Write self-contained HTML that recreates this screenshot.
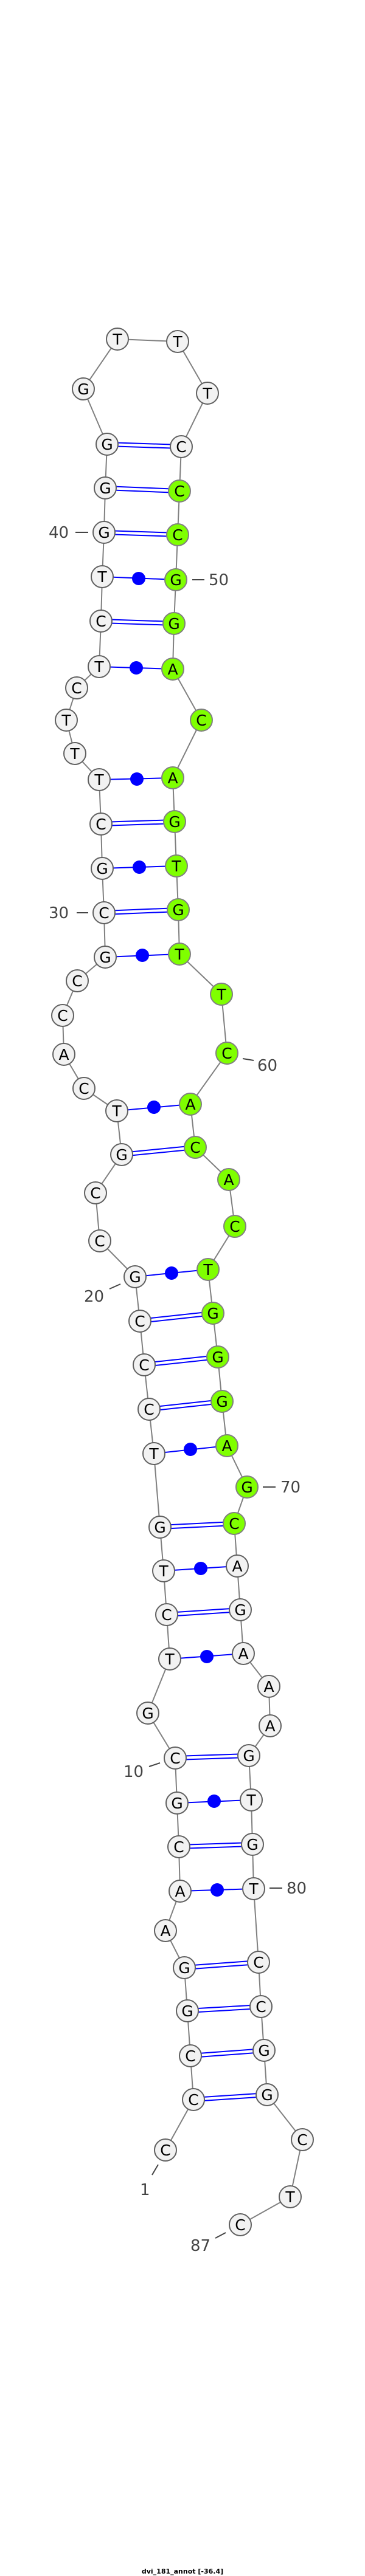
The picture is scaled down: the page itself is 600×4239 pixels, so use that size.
<!DOCTYPE html>
<html><head><meta charset="utf-8"><style>html,body{margin:0;padding:0;background:#fff}svg{display:block}</style></head><body>
<svg width="600" height="4239" viewBox="0 0 600 4239" xmlns="http://www.w3.org/2000/svg">
<rect width="600" height="4239" fill="#fff"/>
<polyline fill="none" stroke="#808080" stroke-width="2" points="272,3538 318,3455 313,3383 308,3309 303,3238 272,3177 296,3112 294,3039 291,2967 288,2893 243,2819 279,2730 274,2657 269,2585 263,2513 253,2392 245,2319 237,2246 230,2174 222,2101 164,2042 157,1963 200,1900 192,1828 138,1791 105,1735 103,1671 127,1614 173,1575 171,1502 168,1429 166,1356 163,1283 123,1240 109,1185 126,1132 163,1097 166,1022 168,949 171,876 173,803 176,731 137,640 193,558 292,562 341,647 298,735 295,808 292,880 289,954 286,1026 284,1101 331,1185 284,1280 287,1352 290,1425 293,1497 295,1570 364,1636 373,1733 313,1817 321,1888 376,1941 386,2018 342,2089 350,2161 358,2233 365,2306 373,2379 406,2447 385,2507 390,2577 395,2649 400,2721 442,2775 444,2840 409,2889 413,2962 415,3035 417,3108 425,3229 429,3302 434,3374 439,3447 497,3521 477,3615 395,3661"/>
<g stroke="#0000ff" stroke-width="2">
<line x1="318" y1="3452" x2="439" y2="3444"/><line x1="318" y1="3458" x2="439" y2="3450"/>
<line x1="313" y1="3380" x2="434" y2="3371"/><line x1="313" y1="3386" x2="434" y2="3377"/>
<line x1="308" y1="3306" x2="429" y2="3299"/><line x1="308" y1="3312" x2="429" y2="3305"/>
<line x1="303" y1="3235" x2="425" y2="3226"/><line x1="303" y1="3241" x2="425" y2="3232"/>
<line x1="296" y1="3112" x2="417" y2="3108"/>
<line x1="294" y1="3036" x2="415" y2="3032"/><line x1="294" y1="3042" x2="415" y2="3038"/>
<line x1="291" y1="2967" x2="413" y2="2962"/>
<line x1="288" y1="2890" x2="409" y2="2886"/><line x1="288" y1="2896" x2="409" y2="2892"/>
<line x1="279" y1="2730" x2="400" y2="2721"/>
<line x1="274" y1="2654" x2="395" y2="2646"/><line x1="274" y1="2660" x2="395" y2="2652"/>
<line x1="269" y1="2585" x2="390" y2="2577"/>
<line x1="263" y1="2510" x2="385" y2="2504"/><line x1="263" y1="2516" x2="385" y2="2510"/>
<line x1="253" y1="2392" x2="373" y2="2379"/>
<line x1="245" y1="2316" x2="365" y2="2303"/><line x1="245" y1="2322" x2="365" y2="2309"/>
<line x1="237" y1="2243" x2="358" y2="2230"/><line x1="237" y1="2249" x2="358" y2="2236"/>
<line x1="230" y1="2171" x2="350" y2="2158"/><line x1="230" y1="2177" x2="350" y2="2164"/>
<line x1="222" y1="2101" x2="342" y2="2089"/>
<line x1="200" y1="1897" x2="321" y2="1885"/><line x1="200" y1="1903" x2="321" y2="1891"/>
<line x1="192" y1="1828" x2="313" y2="1817"/>
<line x1="173" y1="1575" x2="295" y2="1570"/>
<line x1="171" y1="1499" x2="293" y2="1494"/><line x1="171" y1="1505" x2="293" y2="1500"/>
<line x1="168" y1="1429" x2="290" y2="1425"/>
<line x1="166" y1="1353" x2="287" y2="1349"/><line x1="166" y1="1359" x2="287" y2="1355"/>
<line x1="163" y1="1283" x2="284" y2="1280"/>
<line x1="163" y1="1097" x2="284" y2="1101"/>
<line x1="166" y1="1019" x2="286" y2="1023"/><line x1="166" y1="1025" x2="286" y2="1029"/>
<line x1="168" y1="949" x2="289" y2="954"/>
<line x1="171" y1="873" x2="292" y2="877"/><line x1="171" y1="879" x2="292" y2="883"/>
<line x1="173" y1="800" x2="295" y2="805"/><line x1="173" y1="806" x2="295" y2="811"/>
<line x1="176" y1="728" x2="298" y2="732"/><line x1="176" y1="734" x2="298" y2="738"/>
</g>
<g fill="#0000ff">
<circle cx="357" cy="3110" r="11"/><circle cx="352" cy="2964" r="11"/><circle cx="340" cy="2726" r="11"/><circle cx="330" cy="2581" r="11"/><circle cx="313" cy="2385" r="11"/><circle cx="282" cy="2095" r="11"/><circle cx="253" cy="1822" r="11"/><circle cx="234" cy="1572" r="11"/><circle cx="229" cy="1427" r="11"/><circle cx="225" cy="1282" r="11"/><circle cx="224" cy="1099" r="11"/><circle cx="228" cy="952" r="11"/>
</g>
<g stroke="#444" stroke-width="2">
<line x1="124" y1="876" x2="145" y2="876"/><line x1="316" y1="954" x2="336" y2="954"/>
<line x1="126" y1="1502" x2="145" y2="1502"/><line x1="399" y1="1742" x2="417" y2="1745"/>
<line x1="180" y1="2121" x2="198" y2="2113"/><line x1="432" y1="2447" x2="453" y2="2447"/>
<line x1="245" y1="2907" x2="263" y2="2901"/><line x1="443" y1="3107" x2="464" y2="3107"/>
<line x1="260" y1="3562" x2="250" y2="3579"/><line x1="354" y1="3683" x2="371" y2="3674"/>
</g>
<g font-family="DejaVu Sans, Liberation Sans, sans-serif" font-size="26" fill="#444">
<text x="80" y="885">40</text><text x="343" y="963">50</text>
<text x="80" y="1511">30</text><text x="423" y="1762">60</text>
<text x="138" y="2142">20</text><text x="461" y="2456">70</text>
<text x="203" y="2924">10</text><text x="471" y="3116">80</text>
<text x="230" y="3612">1</text><text x="313" y="3704">87</text>
</g>
<g stroke="#606060" stroke-width="2" fill="#f2f2f2">
<circle cx="272" cy="3538" r="18"/><circle cx="318" cy="3455" r="18"/><circle cx="313" cy="3383" r="18"/><circle cx="308" cy="3309" r="18"/><circle cx="303" cy="3238" r="18"/><circle cx="272" cy="3177" r="18"/><circle cx="296" cy="3112" r="18"/><circle cx="294" cy="3039" r="18"/><circle cx="291" cy="2967" r="18"/><circle cx="288" cy="2893" r="18"/><circle cx="243" cy="2819" r="18"/><circle cx="279" cy="2730" r="18"/><circle cx="274" cy="2657" r="18"/><circle cx="269" cy="2585" r="18"/><circle cx="263" cy="2513" r="18"/><circle cx="253" cy="2392" r="18"/><circle cx="245" cy="2319" r="18"/><circle cx="237" cy="2246" r="18"/><circle cx="230" cy="2174" r="18"/><circle cx="222" cy="2101" r="18"/><circle cx="164" cy="2042" r="18"/><circle cx="157" cy="1963" r="18"/><circle cx="200" cy="1900" r="18"/><circle cx="192" cy="1828" r="18"/><circle cx="138" cy="1791" r="18"/><circle cx="105" cy="1735" r="18"/><circle cx="103" cy="1671" r="18"/><circle cx="127" cy="1614" r="18"/><circle cx="173" cy="1575" r="18"/><circle cx="171" cy="1502" r="18"/><circle cx="168" cy="1429" r="18"/><circle cx="166" cy="1356" r="18"/><circle cx="163" cy="1283" r="18"/><circle cx="123" cy="1240" r="18"/><circle cx="109" cy="1185" r="18"/><circle cx="126" cy="1132" r="18"/><circle cx="163" cy="1097" r="18"/><circle cx="166" cy="1022" r="18"/><circle cx="168" cy="949" r="18"/><circle cx="171" cy="876" r="18"/><circle cx="173" cy="803" r="18"/><circle cx="176" cy="731" r="18"/><circle cx="137" cy="640" r="18"/><circle cx="193" cy="558" r="18"/><circle cx="292" cy="562" r="18"/><circle cx="341" cy="647" r="18"/><circle cx="298" cy="735" r="18"/>
<circle cx="390" cy="2577" r="18"/><circle cx="395" cy="2649" r="18"/><circle cx="400" cy="2721" r="18"/><circle cx="442" cy="2775" r="18"/><circle cx="444" cy="2840" r="18"/><circle cx="409" cy="2889" r="18"/><circle cx="413" cy="2962" r="18"/><circle cx="415" cy="3035" r="18"/><circle cx="417" cy="3108" r="18"/><circle cx="425" cy="3229" r="18"/><circle cx="429" cy="3302" r="18"/><circle cx="434" cy="3374" r="18"/><circle cx="439" cy="3447" r="18"/><circle cx="497" cy="3521" r="18"/><circle cx="477" cy="3615" r="18"/><circle cx="395" cy="3661" r="18"/>
</g>
<g stroke="#808080" stroke-width="2" fill="#7fff00">
<circle cx="295" cy="808" r="18"/><circle cx="292" cy="880" r="18"/><circle cx="289" cy="954" r="18"/><circle cx="286" cy="1026" r="18"/><circle cx="284" cy="1101" r="18"/><circle cx="331" cy="1185" r="18"/><circle cx="284" cy="1280" r="18"/><circle cx="287" cy="1352" r="18"/><circle cx="290" cy="1425" r="18"/><circle cx="293" cy="1497" r="18"/><circle cx="295" cy="1570" r="18"/><circle cx="364" cy="1636" r="18"/><circle cx="373" cy="1733" r="18"/><circle cx="313" cy="1817" r="18"/><circle cx="321" cy="1888" r="18"/><circle cx="376" cy="1941" r="18"/><circle cx="386" cy="2018" r="18"/><circle cx="342" cy="2089" r="18"/><circle cx="350" cy="2161" r="18"/><circle cx="358" cy="2233" r="18"/><circle cx="365" cy="2306" r="18"/><circle cx="373" cy="2379" r="18"/><circle cx="406" cy="2447" r="18"/><circle cx="385" cy="2507" r="18"/>
</g>
<g font-family="DejaVu Sans, Liberation Sans, sans-serif" font-size="25" fill="#000" text-anchor="middle">
<text x="272" y="3547">C</text><text x="318" y="3464">C</text><text x="313" y="3392">C</text><text x="308" y="3318">G</text><text x="303" y="3247">G</text><text x="272" y="3186">A</text><text x="296" y="3121">A</text><text x="294" y="3048">C</text><text x="291" y="2976">G</text><text x="288" y="2902">C</text><text x="243" y="2828">G</text><text x="279" y="2739">T</text><text x="274" y="2666">C</text><text x="269" y="2594">T</text><text x="263" y="2522">G</text><text x="253" y="2401">T</text><text x="245" y="2328">C</text><text x="237" y="2255">C</text><text x="230" y="2183">C</text><text x="222" y="2110">G</text><text x="164" y="2051">C</text><text x="157" y="1972">C</text><text x="200" y="1909">G</text><text x="192" y="1837">T</text><text x="138" y="1800">C</text><text x="105" y="1744">A</text><text x="103" y="1680">C</text><text x="127" y="1623">C</text><text x="173" y="1584">G</text><text x="171" y="1511">C</text><text x="168" y="1438">G</text><text x="166" y="1365">C</text><text x="163" y="1292">T</text><text x="123" y="1249">T</text><text x="109" y="1194">T</text><text x="126" y="1141">C</text><text x="163" y="1106">T</text><text x="166" y="1031">C</text><text x="168" y="958">T</text><text x="171" y="885">G</text><text x="173" y="812">G</text><text x="176" y="740">G</text><text x="137" y="649">G</text><text x="193" y="567">T</text><text x="292" y="571">T</text><text x="341" y="656">T</text><text x="298" y="744">C</text>
<text x="295" y="817">C</text><text x="292" y="889">C</text><text x="289" y="963">G</text><text x="286" y="1035">G</text><text x="284" y="1110">A</text><text x="331" y="1194">C</text><text x="284" y="1289">A</text><text x="287" y="1361">G</text><text x="290" y="1434">T</text><text x="293" y="1506">G</text><text x="295" y="1579">T</text><text x="364" y="1645">T</text><text x="373" y="1742">C</text><text x="313" y="1826">A</text><text x="321" y="1897">C</text><text x="376" y="1950">A</text><text x="386" y="2027">C</text><text x="342" y="2098">T</text><text x="350" y="2170">G</text><text x="358" y="2242">G</text><text x="365" y="2315">G</text><text x="373" y="2388">A</text><text x="406" y="2456">G</text><text x="385" y="2516">C</text>
<text x="390" y="2586">A</text><text x="395" y="2658">G</text><text x="400" y="2730">A</text><text x="442" y="2784">A</text><text x="444" y="2849">A</text><text x="409" y="2898">G</text><text x="413" y="2971">T</text><text x="415" y="3044">G</text><text x="417" y="3117">T</text><text x="425" y="3238">C</text><text x="429" y="3311">C</text><text x="434" y="3383">G</text><text x="439" y="3456">G</text><text x="497" y="3530">C</text><text x="477" y="3624">T</text><text x="395" y="3670">C</text>
</g>
<text x="300" y="4235" text-anchor="middle" font-family="DejaVu Sans, Liberation Sans, sans-serif" font-size="11" font-weight="bold" fill="#000">dvi_181_annot [-36.4]</text>
</svg>
</body></html>
